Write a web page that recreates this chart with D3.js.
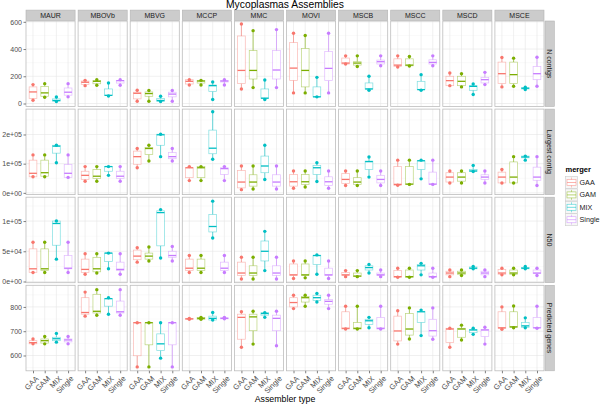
<!DOCTYPE html>
<html>
<head>
<meta charset="utf-8">
<script src="https://cdn.jsdelivr.net/npm/d3@7"></script>
<style>
  body { margin: 0; background: #fff; }
  text { font-family: "Liberation Sans", Arial, sans-serif; }
</style>
</head>
<body>
<svg id="chart"></svg>
<script>
// facets, rows and mergers
let species = ['MAUR', 'MBOVb', 'MBVG', 'MCCP', 'MMC', 'MOVI', 'MSCB', 'MSCC', 'MSCD', 'MSCE'];
let metrics = ['N contigs', 'Largest contig', 'N50', 'Predicted genes'];
let mergers = ['GAA', 'GAM', 'MIX', 'Single'];
let colors = ['#F8766D', '#7CAE00', '#00BFC4', '#C77CFF'];

// box stats per species, per merger: [min, q1, median, q3, max]
let nContigs = [
  [[24, 36, 85, 122, 139], [46, 53, 78, 126, 146], [15, 18, 22, 34, 48], [49, 61, 83, 114, 146]],
  [[131, 140, 156, 165, 170], [134, 145, 163, 168, 175], [55, 58, 60, 107, 151], [134, 150, 168, 170, 175]],
  [[17, 34, 75, 83, 97], [17, 53, 73, 85, 95], [15, 15, 22, 36, 53], [17, 49, 69, 83, 95]],
  [[136, 143, 163, 175, 175], [136, 150, 165, 170, 170], [29, 88, 131, 136, 158], [136, 158, 165, 170, 175]],
  [[107, 146, 243, 496, 584], [117, 180, 243, 389, 535], [29, 39, 39, 107, 173], [117, 180, 246, 389, 543]],
  [[78, 170, 260, 447, 516], [78, 122, 243, 404, 499], [49, 49, 49, 122, 192], [78, 168, 258, 382, 516]],
  [[290, 290, 297, 334, 350], [272, 282, 297, 307, 350], [97, 107, 107, 151, 200], [277, 290, 307, 319, 350]],
  [[268, 272, 282, 328, 350], [275, 277, 282, 328, 345], [97, 102, 102, 163, 212], [277, 290, 302, 321, 350]],
  [[131, 131, 168, 200, 224], [122, 131, 163, 200, 219], [66, 97, 126, 131, 143], [139, 151, 175, 192, 229]],
  [[122, 146, 219, 304, 338], [127, 146, 212, 304, 333], [102, 107, 112, 116, 119], [127, 175, 219, 272, 340]]
];

let largestContig = [
  [[55000, 55000, 67000, 112000, 130000], [55000, 57000, 69000, 112000, 130000], [103000, 136000, 160000, 163000, 163000], [53000, 53000, 67000, 97000, 130000]],
  [[40000, 46000, 60000, 74000, 90000], [40000, 49000, 57000, 80000, 90000], [60000, 74000, 90000, 90000, 90000], [40000, 49000, 57000, 74000, 90000]],
  [[86000, 98000, 124000, 143000, 152000], [109000, 131000, 152000, 155000, 163000], [124000, 163000, 199000, 201000, 201000], [109000, 117000, 124000, 138000, 152000]],
  [[42000, 52000, 86000, 86000, 90000], [42000, 52000, 86000, 90000, 90000], [115000, 134000, 153000, 215000, 278000], [42000, 63000, 83000, 86000, 90000]],
  [[11000, 17000, 37000, 77000, 92000], [13000, 23000, 37000, 62000, 92000], [46000, 69000, 92000, 126000, 163000], [13000, 23000, 37000, 62000, 92000]],
  [[16000, 23000, 38000, 63000, 75000], [20000, 29000, 38000, 63000, 75000], [39000, 63000, 86000, 94000, 103000], [16000, 25000, 38000, 55000, 75000]],
  [[25000, 32000, 46000, 66000, 75000], [25000, 29000, 37000, 52000, 75000], [54000, 80000, 107000, 109000, 123000], [25000, 34000, 46000, 60000, 75000]],
  [[26000, 26000, 29000, 90000, 112000], [29000, 29000, 30000, 90000, 112000], [48000, 80000, 110000, 110000, 112000], [29000, 29000, 30000, 71000, 112000]],
  [[34000, 37000, 54000, 69000, 75000], [34000, 40000, 54000, 69000, 75000], [73000, 73000, 75000, 80000, 94000], [34000, 46000, 54000, 62000, 75000]],
  [[34000, 34000, 54000, 71000, 80000], [34000, 34000, 54000, 106000, 124000], [112000, 120000, 123000, 126000, 126000], [25000, 43000, 54000, 88000, 124000]]
];

let n50 = [
  [[15000, 15000, 21000, 54000, 65000], [15000, 18000, 21000, 54000, 65000], [37000, 60000, 96000, 100000, 100000], [15000, 21000, 22000, 43000, 65000]],
  [[12000, 15000, 20000, 37000, 46000], [14000, 16000, 21000, 40000, 46000], [21000, 33000, 47000, 47000, 47000], [12000, 18000, 20000, 32000, 46000]],
  [[32000, 36000, 42000, 52000, 56000], [34000, 37000, 42000, 47000, 57000], [39000, 59000, 114000, 117000, 119000], [34000, 40000, 43000, 50000, 58000]],
  [[15000, 18000, 22000, 37000, 43000], [15000, 18000, 22000, 37000, 43000], [72000, 82000, 91000, 111000, 133000], [15000, 18000, 22000, 32000, 43000]],
  [[4000, 10000, 14000, 32000, 40000], [4000, 10000, 14000, 26000, 40000], [18000, 34000, 50000, 67000, 83000], [4000, 10000, 14000, 26000, 40000]],
  [[5000, 10000, 11000, 29000, 34000], [6000, 10000, 11000, 29000, 34000], [12000, 28000, 43000, 43000, 44000], [5000, 10000, 11000, 22000, 34000]],
  [[8000, 10000, 11000, 15000, 18000], [8000, 8000, 9000, 14000, 18000], [14000, 19000, 23000, 26000, 28000], [8000, 10000, 11000, 14000, 19000]],
  [[7000, 7000, 8000, 18000, 22000], [7000, 7000, 8000, 19000, 22000], [11000, 19000, 26000, 28000, 30000], [7000, 7000, 8000, 14000, 22000]],
  [[8000, 11000, 14000, 17000, 19000], [10000, 12000, 14000, 17000, 19000], [21000, 21000, 22000, 24000, 25000], [8000, 11000, 14000, 17000, 19000]],
  [[11000, 12000, 14000, 20000, 22000], [11000, 12000, 14000, 19000, 22000], [21000, 21000, 22000, 23000, 25000], [10000, 13000, 14000, 19000, 22000]]
];

let predictedGenes = [
  [[648, 648, 653, 661, 668], [648, 651, 661, 668, 678], [655, 661, 669, 675, 691], [648, 656, 664, 668, 678]],
  [[762, 770, 777, 838, 861], [766, 775, 782, 852, 871], [770, 803, 834, 834, 838], [766, 775, 780, 824, 871]],
  [[553, 599, 735, 735, 735], [553, 644, 735, 735, 735], [589, 620, 648, 689, 735], [553, 644, 735, 735, 735]],
  [[749, 749, 751, 753, 753], [749, 749, 753, 757, 757], [746, 746, 753, 762, 777], [751, 751, 753, 755, 757]],
  [[634, 667, 757, 770, 780], [647, 702, 759, 770, 782], [757, 766, 773, 776, 776], [640, 702, 753, 766, 782]],
  [[793, 800, 818, 838, 848], [803, 820, 838, 843, 848], [820, 827, 838, 848, 855], [793, 811, 823, 830, 848]],
  [[709, 709, 712, 780, 803], [709, 709, 712, 736, 803], [714, 728, 743, 749, 757], [709, 709, 712, 757, 803]],
  [[647, 660, 701, 762, 784], [668, 684, 709, 773, 796], [682, 736, 780, 782, 787], [667, 680, 702, 749, 796]],
  [[634, 653, 709, 712, 712], [664, 675, 709, 712, 725], [687, 694, 705, 707, 712], [647, 678, 705, 707, 716]],
  [[708, 712, 714, 780, 800], [714, 716, 718, 780, 804], [714, 716, 722, 736, 755], [712, 714, 714, 757, 803]]
];

// y axis setup per row
let yDomains = [[-22, 606], [-6000, 287000], [-2000, 139500], [537, 889]];
let yTicks = [[0, 200, 400, 600], [0, 100000, 200000], [0, 50000, 100000], [600, 700, 800]];
let yMinor = [[100, 300, 500], [50000, 150000, 250000], [25000, 75000, 125000], [550, 650, 750, 850]];

let rowData = [nContigs, largestContig, n50, predictedGenes];

let width = 600;
let height = 406;
let plotLeft = 26;
let plotTop = 21;
let panelW = 49.1;
let panelH = 85.5;
let gapX = 3;
let gapY = 2.6;
let stripH = 10.3;

let svg = d3.select('#chart')
            .attr('width', width)
            .attr('height', height);

let sciFormat = v => d3.format('.0e')(v).replace(/e([+-])(\d)$/, 'e$10$2');
let tickFormats = [d3.format('d'), sciFormat, sciFormat, d3.format('d')];

let xScale = d3.scalePoint()
               .domain(mergers)
               .range([0, panelW])
               .padding(0.6);
let boxW = xScale.step() * 0.66;

let yScales = yDomains.map((dom, r) => {
    let y0 = plotTop + r * (panelH + gapY);
    return d3.scaleLinear().domain(dom).range([y0 + panelH, y0]);
});

let colX = c => plotLeft + c * (panelW + gapX);
let centerX = plotLeft + (10 * panelW + 9 * gapX) / 2;

// title
svg.append('text')
   .attr('x', centerX)
   .attr('y', 8)
   .attr('text-anchor', 'middle')
   .style('font-size', '10.3px')
   .text('Mycoplasmas Assemblies');

// top strips
species.forEach((sp, c) => {
    let g = svg.append('g').attr('transform', `translate(${colX(c)}, ${plotTop - stripH - 0.6})`);
    g.append('rect')
     .attr('width', panelW)
     .attr('height', stripH)
     .attr('fill', '#cccccc')
     .attr('stroke', '#b3b3b3')
     .attr('stroke-width', 0.6);
    g.append('text')
     .attr('x', panelW / 2)
     .attr('y', stripH / 2)
     .attr('dy', '0.36em')
     .attr('text-anchor', 'middle')
     .style('font-size', '7px')
     .attr('fill', '#1a1a1a')
     .text(sp);
});

// right strips
let rightX = colX(9) + panelW + 1;
metrics.forEach((m, r) => {
    let y0 = plotTop + r * (panelH + gapY);
    let g = svg.append('g').attr('transform', `translate(${rightX}, ${y0})`);
    g.append('rect')
     .attr('width', stripH - 1)
     .attr('height', panelH)
     .attr('fill', '#cccccc')
     .attr('stroke', '#b3b3b3')
     .attr('stroke-width', 0.6);
    g.append('text')
     .attr('transform', `translate(${(stripH - 1) / 2}, ${panelH / 2}) rotate(90)`)
     .attr('dy', '0.36em')
     .attr('text-anchor', 'middle')
     .style('font-size', '7px')
     .attr('fill', '#1a1a1a')
     .text(m);
});

// panels
metrics.forEach((m, r) => {
    let y = yScales[r];
    let y0 = plotTop + r * (panelH + gapY);
    species.forEach((sp, c) => {
        let x0 = colX(c);
        let g = svg.append('g').attr('transform', `translate(${x0}, 0)`);

        g.append('rect')
         .attr('x', 0).attr('y', y0)
         .attr('width', panelW).attr('height', panelH)
         .attr('fill', '#ffffff');

        // grid
        g.selectAll('.minor')
         .data(yMinor[r].filter(v => v > yDomains[r][0] && v < yDomains[r][1]))
         .enter().append('line')
         .attr('x1', 0).attr('x2', panelW)
         .attr('y1', d => y(d)).attr('y2', d => y(d))
         .attr('stroke', '#f4f4f4').attr('stroke-width', 0.5);
        g.selectAll('.major')
         .data(yTicks[r])
         .enter().append('line')
         .attr('x1', 0).attr('x2', panelW)
         .attr('y1', d => y(d)).attr('y2', d => y(d))
         .attr('stroke', '#e6e6e6').attr('stroke-width', 0.6);
        g.selectAll('.vgrid')
         .data(mergers)
         .enter().append('line')
         .attr('x1', d => xScale(d)).attr('x2', d => xScale(d))
         .attr('y1', y0).attr('y2', y0 + panelH)
         .attr('stroke', '#e6e6e6').attr('stroke-width', 0.6);

        // boxes
        rowData[r][c].forEach((s, k) => {
            let cx = xScale(mergers[k]);
            let col = colors[k];
            let bg = g.append('g');
            bg.append('line')
              .attr('x1', cx).attr('x2', cx)
              .attr('y1', y(s[0])).attr('y2', y(s[1]))
              .attr('stroke', col).attr('stroke-width', 0.7).attr('stroke-opacity', 0.85);
            bg.append('line')
              .attr('x1', cx).attr('x2', cx)
              .attr('y1', y(s[3])).attr('y2', y(s[4]))
              .attr('stroke', col).attr('stroke-width', 0.7).attr('stroke-opacity', 0.85);
            bg.append('rect')
              .attr('x', cx - boxW / 2)
              .attr('y', y(s[3]))
              .attr('width', boxW)
              .attr('height', Math.max(0.5, y(s[1]) - y(s[3])))
              .attr('fill', '#ffffff').attr('fill-opacity', 0.8)
              .attr('stroke', col).attr('stroke-width', 0.7).attr('stroke-opacity', 0.5);
            bg.append('line')
              .attr('x1', cx - boxW / 2).attr('x2', cx + boxW / 2)
              .attr('y1', y(s[2])).attr('y2', y(s[2]))
              .attr('stroke', col).attr('stroke-width', 1.3);
            bg.selectAll('circle')
              .data([s[0], s[4]])
              .enter().append('circle')
              .attr('cx', cx)
              .attr('cy', d => y(d))
              .attr('r', 1.7)
              .attr('fill', col);
        });

        g.append('rect')
         .attr('x', 0).attr('y', y0)
         .attr('width', panelW).attr('height', panelH)
         .attr('fill', 'none')
         .attr('stroke', '#bdbdbd').attr('stroke-width', 0.8);
    });

    // y axis on left
    let yAxis = d3.axisLeft(y)
                  .tickValues(yTicks[r])
                  .tickFormat(tickFormats[r])
                  .tickSize(2.5)
                  .tickPadding(1.5);
    let ag = svg.append('g')
                .attr('transform', `translate(${plotLeft}, 0)`)
                .call(yAxis);
    ag.select('.domain').remove();
    ag.selectAll('line').attr('stroke', '#7f7f7f');
    ag.selectAll('text')
      .style('font-size', '7px')
      .style('font-family', '"Liberation Sans", Arial, sans-serif')
      .attr('fill', '#4d4d4d');
});

// x axes
let plotBottom = plotTop + 3 * (panelH + gapY) + panelH;
species.forEach((sp, c) => {
    let xa = d3.axisBottom(xScale).tickSize(2.5).tickFormat('');
    let ag = svg.append('g')
                .attr('transform', `translate(${colX(c)}, ${plotBottom})`)
                .call(xa);
    ag.select('.domain').remove();
    ag.selectAll('line').attr('stroke', '#7f7f7f');
    mergers.forEach(m => {
        svg.append('text')
           .attr('transform', `translate(${colX(c) + xScale(m) + 2.2}, ${plotBottom + 4.5}) rotate(-45)`)
           .attr('text-anchor', 'end')
           .attr('dy', '0.7em')
           .style('font-size', '7.6px')
           .attr('fill', '#4d4d4d')
           .text(m);
    });
});

svg.append('text')
   .attr('x', centerX)
   .attr('y', 401.5)
   .attr('text-anchor', 'middle')
   .style('font-size', '8.8px')
   .text('Assembler type');

// legend
let legend = svg.append('g')
                .attr('id', 'legend')
                .attr('transform', 'translate(565.5, 172)');
legend.append('text')
      .attr('x', 0)
      .attr('y', 0)
      .style('font-size', '7.5px')
      .style('font-weight', 'bold')
      .text('merger');
mergers.forEach((m, i) => {
    let ky = 4.5 + i * 12.4;
    let kg = legend.append('g').attr('transform', `translate(0, ${ky})`);
    kg.append('rect')
      .attr('width', 12).attr('height', 12)
      .attr('fill', '#f7f7f7')
      .attr('stroke', '#cccccc').attr('stroke-width', 0.6);
    kg.append('line')
      .attr('x1', 6).attr('x2', 6).attr('y1', 1).attr('y2', 11)
      .attr('stroke', colors[i]).attr('stroke-width', 0.7).attr('stroke-opacity', 0.6);
    kg.append('rect')
      .attr('x', 1.5).attr('y', 3).attr('width', 9).attr('height', 6)
      .attr('fill', '#ffffff')
      .attr('stroke', colors[i]).attr('stroke-width', 0.7).attr('stroke-opacity', 0.6);
    kg.append('line')
      .attr('x1', 1.5).attr('x2', 10.5).attr('y1', 6).attr('y2', 6)
      .attr('stroke', colors[i]).attr('stroke-width', 0.8).attr('stroke-opacity', 0.7);
    kg.append('text')
      .attr('x', 14)
      .attr('y', 6)
      .attr('dy', '0.36em')
      .style('font-size', '7.2px')
      .attr('fill', '#1a1a1a')
      .text(m);
});
</script>
</body>
</html>
